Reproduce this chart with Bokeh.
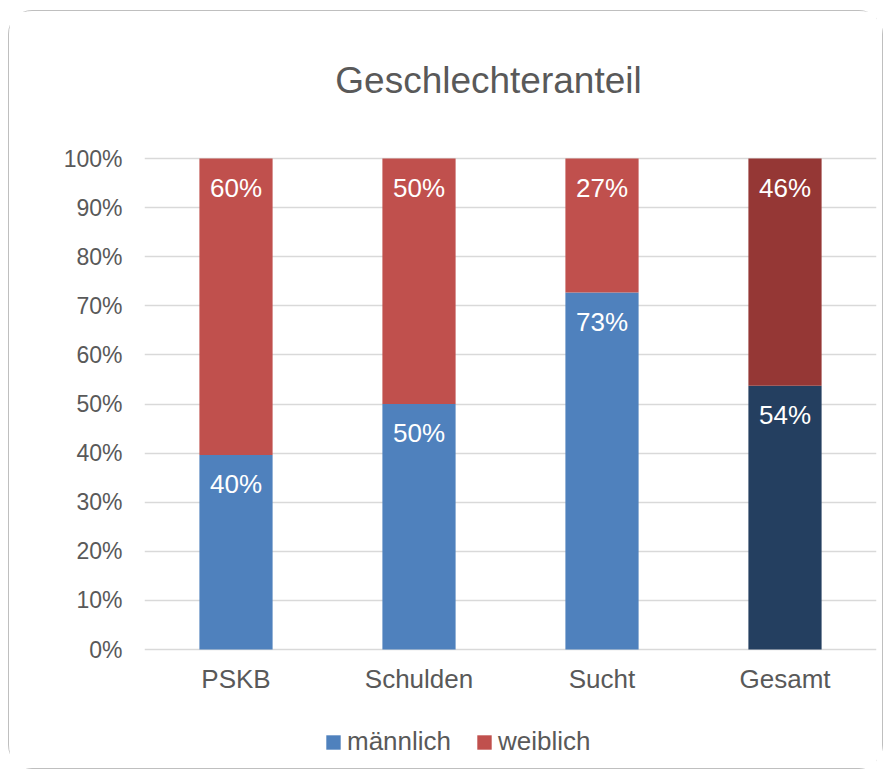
from bokeh.plotting import figure
from bokeh.models import (ColumnDataSource, FixedTicker, Legend, LegendItem,
                          Label, Range1d, FactorRange)
from bokeh.embed import file_html
from bokeh.resources import INLINE
from bokeh.core.properties import value

categories = ["PSKB", "Schulden", "Sucht", "Gesamt"]
maennlich = [39.6, 50.0, 72.7, 53.7]
weiblich = [60.4, 50.0, 27.3, 46.3]
colors_m = ["#4F81BD", "#4F81BD", "#4F81BD", "#243F60"]
colors_w = ["#C0504D", "#C0504D", "#C0504D", "#953735"]
yticks = [0, 10, 20, 30, 40, 50, 60, 70, 80, 90, 100]
ytick_labels = ["0%", "10%", "20%", "30%", "40%", "50%", "60%", "70%", "80%", "90%", "100%"]
title_text = "Geschlechteranteil"
series_names = ["männlich", "weiblich"]

FONT = "Liberation Sans"
GREY = "#595959"

# layout (pixels): figure content box and where 0% / 100% should sit
W, H = 875, 759
PX_PER_UNIT = 4.91
Y0_FROM_BOTTOM = 121                    # 0% line distance from content bottom
y_min = -Y0_FROM_BOTTOM / PX_PER_UNIT
y_max = y_min + H / PX_PER_UNIT

total = [m + w for m, w in zip(maennlich, weiblich)]
src = ColumnDataSource(dict(
    cat=categories, m=maennlich, w=weiblich, total=total,
    cm=colors_m, cw=colors_w,
    lm=[f"{round(v)}%" for v in maennlich],
    lw=[f"{round(v)}%" for v in weiblich],
))

p = figure(x_range=FactorRange(*categories), y_range=Range1d(y_min, y_max),
           width=W, height=H, output_backend="svg", toolbar_location=None,
           x_axis_location=None,
           min_border_left=135, min_border_right=8, min_border_top=0,
           min_border_bottom=0)
p.title = None
p.outline_line_color = None
p.margin = (10, 0, 0, 8)
p.styles = {"border": "1px solid #BFBFBF", "border-radius": "24px"}

r_m = p.vbar(x="cat", bottom=0, top="m", width=0.4, fill_color="cm",
             line_color=None, source=src)
r_w = p.vbar(x="cat", bottom="m", top="total", width=0.4, fill_color="cw",
             line_color=None, source=src)

p.text(x="cat", y="m", text="lm", source=src, text_color="white",
       text_font=value(FONT), text_font_size="26px", text_align="center",
       text_baseline="middle", y_offset=29)
p.text(x="cat", y="total", text="lw", source=src, text_color="white",
       text_font=value(FONT), text_font_size="26px", text_align="center",
       text_baseline="middle", y_offset=29)

# category labels under the 0% line
p.text(x="cat", y=0, text="cat", source=src, text_color=GREY,
       text_font=value(FONT), text_font_size="26px", text_align="center",
       text_baseline="middle", y_offset=29)

# chart title
p.add_layout(Label(x=344, x_units="screen", y=115.9, text=title_text,
                   text_align="center", text_baseline="alphabetic",
                   text_font=FONT, text_font_size="37px", text_color=GREY))

p.xgrid.visible = False
p.ygrid.grid_line_color = "#D9D9D9"
p.ygrid.grid_line_width = 1.5
p.yaxis.ticker = FixedTicker(ticks=yticks)
p.yaxis.major_label_overrides = {t_: l for t_, l in zip(yticks, ytick_labels)}
p.yaxis.axis_line_color = None
p.yaxis.major_tick_line_color = None
p.yaxis.minor_tick_line_color = None
p.yaxis.major_tick_out = 0
p.yaxis.major_label_standoff = 22
p.yaxis.major_label_text_font = FONT
p.yaxis.major_label_text_font_size = "23px"
p.yaxis.major_label_text_color = GREY

legend = Legend(items=[LegendItem(label=series_names[0], renderers=[r_m], index=0),
                       LegendItem(label=series_names[1], renderers=[r_w], index=0)],
                orientation="horizontal", location=(180, 13),
                glyph_width=18, glyph_height=18, label_standoff=5, spacing=24,
                padding=0, margin=0, border_line_color=None,
                background_fill_alpha=0, label_text_font=FONT,
                label_text_font_size="26px", label_text_color=GREY)
p.add_layout(legend, "center")

open("out.html", "w").write(file_html(p, INLINE))
